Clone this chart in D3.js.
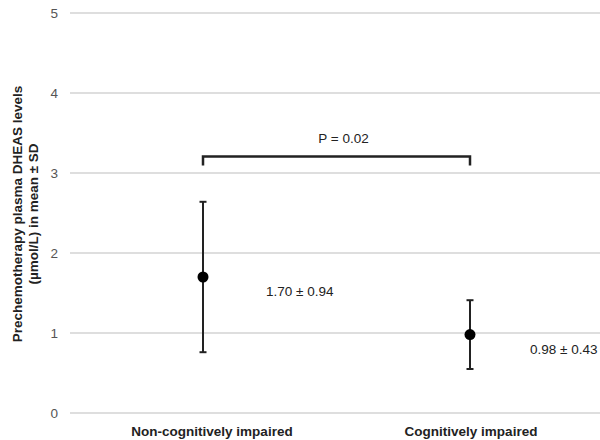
<!DOCTYPE html>
<html><head><meta charset="utf-8">
<script src="https://cdn.jsdelivr.net/npm/d3@7"></script>
<style>body{margin:0;background:#fff}</style>
</head><body>
<svg id="c" width="600" height="440"></svg>
<script>
const categories = ["Non-cognitively impaired", "Cognitively impaired"];
const means = [1.70, 0.98];
const sds = [0.94, 0.43];
const valueLabels = ["1.70 ± 0.94", "0.98 ± 0.43"];
const yTicks = [0, 1, 2, 3, 4, 5];
const pLabel = "P = 0.02";
const bracketValue = 3.2;

const svg = d3.select("#c");
const font = "Liberation Sans, Arial, sans-serif";
const y = d3.scaleLinear().domain([0, 5]).range([413, 13]);
const x = d3.scalePoint().domain(categories).range([203, 470]);

// grid
svg.append("g").selectAll("line").data(yTicks).join("line")
  .attr("x1", 70).attr("x2", 600)
  .attr("y1", d => y(d)).attr("y2", d => y(d))
  .attr("stroke", "#d3d3d3").attr("stroke-width", 1.5);

// y tick labels
svg.append("g").selectAll("text").data(yTicks).join("text")
  .attr("x", 58).attr("y", d => y(d) + 5)
  .attr("text-anchor", "end")
  .attr("font-family", font).attr("font-size", 13.5).attr("fill", "#555")
  .text(d => d);

// y axis title
const yt = svg.append("text")
  .attr("transform", "translate(22,214) rotate(-90)")
  .attr("text-anchor", "middle")
  .attr("font-family", font).attr("font-size", 13.5).attr("font-weight", "bold").attr("fill", "#222");
yt.append("tspan").attr("x", 0).attr("dy", 0).text("Prechemotherapy plasma DHEAS levels");
yt.append("tspan").attr("x", 0).attr("dy", 16).text("(µmol/L) in mean ± SD");

// error bars
const g = svg.append("g");
categories.forEach((c, i) => {
  const cx = x(c);
  g.append("line").attr("x1", cx).attr("x2", cx)
    .attr("y1", y(means[i] + sds[i])).attr("y2", y(means[i] - sds[i]))
    .attr("stroke", "#222").attr("stroke-width", 2);
  [means[i] + sds[i], means[i] - sds[i]].forEach(v => {
    g.append("line").attr("x1", cx - 3.5).attr("x2", cx + 3.5)
      .attr("y1", y(v)).attr("y2", y(v))
      .attr("stroke", "#222").attr("stroke-width", 2);
  });
  g.append("circle").attr("cx", cx).attr("cy", y(means[i])).attr("r", 5.5).attr("fill", "#000");
});

// value labels
const labelOffsets = [[63, 19], [60, 19]];
valueLabels.forEach((t, i) => {
  svg.append("text")
    .attr("x", x(categories[i]) + labelOffsets[i][0])
    .attr("y", y(means[i]) + labelOffsets[i][1])
    .attr("font-family", font).attr("font-size", 13.5).attr("fill", "#222")
    .text(t);
});

// bracket
const by = y(bracketValue) - 0.5;
svg.append("path")
  .attr("d", `M${x(categories[0])},${by + 9}V${by}H${x(categories[1])}V${by + 9}`)
  .attr("fill", "none").attr("stroke", "#222").attr("stroke-width", 2.5);
svg.append("text")
  .attr("x", (x(categories[0]) + x(categories[1])) / 2 + 7).attr("y", by - 14)
  .attr("text-anchor", "middle")
  .attr("font-family", font).attr("font-size", 13.5).attr("fill", "#222")
  .text(pLabel);

// category labels
const catDx = [9, 1];
svg.append("g").selectAll("text").data(categories).join("text")
  .attr("x", (d, i) => x(d) + catDx[i]).attr("y", 436)
  .attr("text-anchor", "middle")
  .attr("font-family", font).attr("font-size", 13.5).attr("font-weight", "bold").attr("fill", "#222")
  .text(d => d);
</script>
</body></html>
